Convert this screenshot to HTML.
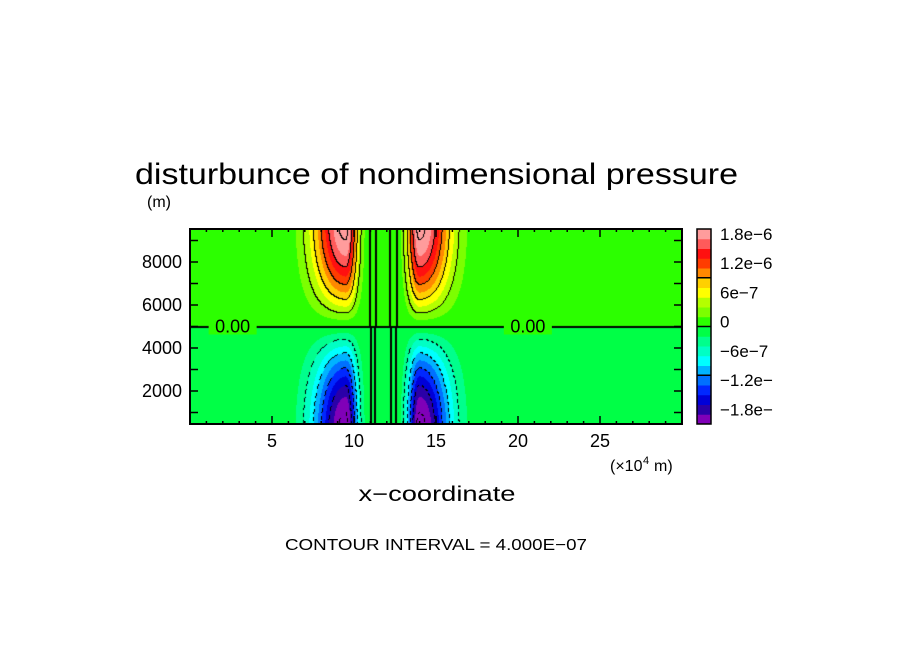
<!DOCTYPE html>
<html><head><meta charset="utf-8"><style>
html,body{margin:0;padding:0;background:#fff;}
#wrap{position:relative;width:904px;height:654px;overflow:hidden;}
canvas,svg{position:absolute;left:0;top:0;}
text{font-family:"Liberation Sans",sans-serif;fill:#000;}
</style></head><body>
<div id="wrap">
<canvas id="field" width="904" height="654"></canvas>
<svg id="svg" width="904" height="654"></svg>
</div>
<script>
// ---- data ----
const lobeCenters = [9.5, 14.0];        // x (x10^4 m)
const lobeAmps = [2.1e-6, 2.1e-6];
const lobeOuterWidth = [2.0, 1.9];
const lobeInnerWidth = [0.75, 0.75];
const lobeInnerDir = [1, -1];          // which side is the sharp (inner) side
const centerLines = [11.0, 11.35, 12.2, 12.65]; // near-zero contour lines in central band
const levels = [-2e-6,-1.8e-6,-1.6e-6,-1.4e-6,-1.2e-6,-1e-6,-8e-7,-6e-7,-4e-7,-2e-7,0,2e-7,4e-7,6e-7,8e-7,1e-6,1.2e-6,1.4e-6,1.6e-6,1.8e-6,2e-6];
const levelColors = ["#8000b8","#2a00a8","#0000d8","#0028ff","#0070ff","#00b4ff","#00ffff","#00ffc4","#00ff8c","#00ff46",
                     "#2cff00","#7cff00","#b4ff00","#ffff00","#ffd000","#ff8800","#ff3c00","#ff1010","#ff5a5a","#ff9c9c"];
const xTicks = [5,10,15,20,25];
const yTicks = [2000,4000,6000,8000];
const cbLabels = ["1.8e-6","1.2e-6","6e-7","0","-6e-7","-1.2e-","-1.8e-"];
const cbLabelLevels = [1.9e-6,1.3e-6,7e-7,1e-7,-5e-7,-1.1e-6,-1.7e-6];
const contourInterval = 4e-7;

// ---- axes ----
const X0=190,X1=682,Y0=229,Y1=424;
const xmin=0,xmax=30,zmin=465,zmax=9535;
const sx=x=>X0+(x-xmin)/(xmax-xmin)*(X1-X0);
const sy=z=>Y1-(z-zmin)/(zmax-zmin)*(Y1-Y0);
const ix=px=>xmin+(px-X0)/(X1-X0)*(xmax-xmin);
const iz=py=>zmin+(Y1-py)/(Y1-Y0)*(zmax-zmin);

function field(x,z){
  let s=0;
  for(let i=0;i<lobeCenters.length;i++){
    const d=x-lobeCenters[i];
    const w=(d*lobeInnerDir[i]>0)?lobeInnerWidth[i]:lobeOuterWidth[i];
    s+=lobeAmps[i]*Math.exp(-(d/w)*(d/w));
  }
  return -s*Math.cos(Math.PI*z/10000);
}
function hex(c){return [parseInt(c.substr(1,2),16),parseInt(c.substr(3,2),16),parseInt(c.substr(5,2),16)];}
const rgb=levelColors.map(hex);
function bin(v){let k=0;while(k<levels.length-2&&v>=levels[k+1])k++;return k;}
function cidx(v){ if(Math.abs(v)<contourInterval*0.05) return 0; return v>0?Math.floor(v/contourInterval):-Math.floor(-v/contourInterval); }

const cv=document.getElementById('field');const ctx=cv.getContext('2d');
const W=X1-X0,H=Y1-Y0;
const img=ctx.createImageData(W,H);
const vals=[];
for(let j=0;j<H;j++){vals.push([]);for(let i=0;i<W;i++){vals[j].push(field(ix(X0+i+0.5),iz(Y0+j+0.5)));}}
for(let j=0;j<H;j++)for(let i=0;i<W;i++){
  const v=vals[j][i];const c=rgb[bin(v)];const p=(j*W+i)*4;
  let black=false;
  const a=cidx(v);
  if(i+1<W&&cidx(vals[j][i+1])!==a)black=true;
  if(j+1<H&&cidx(vals[j+1][i])!==a)black=true;
  if(black&&v<0&&((i+j)%7<3))black=false;
  if(black){img.data[p]=0;img.data[p+1]=0;img.data[p+2]=0;}
  else{img.data[p]=c[0];img.data[p+1]=c[1];img.data[p+2]=c[2];}
  img.data[p+3]=255;
}
ctx.putImageData(img,X0,Y0);
// zero line
ctx.fillStyle="#000";ctx.fillRect(X0,Math.round(sy(5000))-1,W,2);
// central band contour lines
centerLines.forEach((x,k)=>{
  const px=Math.round(sx(x));
  ctx.fillRect(px-1,Y0,2,Math.round(sy(5000))-Y0);
  ctx.fillRect(px-1+(k%2?-1:1),Math.round(sy(5000)),2,Y1-Math.round(sy(5000)));
});

// ---- svg overlay ----
const NS="http://www.w3.org/2000/svg";const svg=document.getElementById('svg');
function el(t,a,txt){const e=document.createElementNS(NS,t);for(const k in a)e.setAttribute(k,a[k]);if(txt!==undefined)e.textContent=txt;svg.appendChild(e);return e;}

// zero labels
[[sx(2.6),"zero-label-left"],[sx(20.6),"zero-label-right"]].forEach(([x,n])=>{
  const r=el('rect',{x:x-24,y:sy(5000)-8,width:48,height:16,fill:"#2cff00"});
  
  const t=el('text',{x:x,y:sy(5000)+6,'font-size':18,'text-anchor':'middle'},"0.00");
  
});

const fr=el('rect',{x:X0,y:Y0,width:W,height:H,fill:"none",stroke:"#000","stroke-width":2});


for(let x=1;x<30;x++){
  const L=(x%5===0)?8:3;
  const t1=el('line',{x1:sx(x),x2:sx(x),y1:Y0,y2:Y0+L,stroke:"#000","stroke-width":1.5});
  
  const t2=el('line',{x1:sx(x),x2:sx(x),y1:Y1,y2:Y1-L,stroke:"#000","stroke-width":1.5});
  
}
xTicks.forEach(v=>{const t=el('text',{x:sx(v),y:447,'font-size':18,'text-anchor':'middle'},String(v));
  });
for(let z=1000;z<=9000;z+=1000){
  const t1=el('line',{x1:X0,x2:X0+8,y1:sy(z),y2:sy(z),stroke:"#000","stroke-width":1.5});
  
  const t2=el('line',{x1:X1,x2:X1-8,y1:sy(z),y2:sy(z),stroke:"#000","stroke-width":1.5});
  
}
yTicks.forEach(v=>{const t=el('text',{x:182,y:sy(v)+6,'font-size':18,'text-anchor':'end'},String(v));
  });

// colorbar
const CX=697,CW=14,CT=229,CB=424;
const cy=v=>CB-(v-levels[0])/(levels[levels.length-1]-levels[0])*(CB-CT);
for(let k=0;k<levelColors.length;k++){
  const r=el('rect',{x:CX,y:cy(levels[k+1]),width:CW,height:cy(levels[k])-cy(levels[k+1])+0.5,fill:levelColors[k]});
  
}
[1e-6,0,-1e-6].forEach(v=>{const l=el('line',{x1:CX,x2:CX+CW,y1:cy(v),y2:cy(v),stroke:"#000","stroke-width":1.5});
  });
const cf=el('rect',{x:CX,y:CT,width:CW,height:CB-CT,fill:"none",stroke:"#000","stroke-width":1.5});

cbLabels.forEach((s,i)=>{const t=el('text',{x:720,y:cy(cbLabelLevels[i])+6,'font-size':17},s.replace(/-/g,'\u2212'));
  });

// titles
let t;
t=el('text',{x:135,y:184,'font-size':30,textLength:603,lengthAdjust:'spacingAndGlyphs'},"disturbunce of nondimensional pressure");

t=el('text',{x:147,y:207,'font-size':16},"(m)");

t=el('text',{x:610,y:471,'font-size':16},"(\u00d710");

t=el('text',{x:643,y:464,'font-size':11},"4");

t=el('text',{x:654,y:471,'font-size':16},"m)");

t=el('text',{x:437,y:501,'font-size':21,'text-anchor':'middle',textLength:157,lengthAdjust:'spacingAndGlyphs'},"x\u2212coordinate");

t=el('text',{x:285,y:550,'font-size':16,textLength:302,lengthAdjust:'spacingAndGlyphs'},"CONTOUR INTERVAL = 4.000E\u221207");

</script>
</body></html>
